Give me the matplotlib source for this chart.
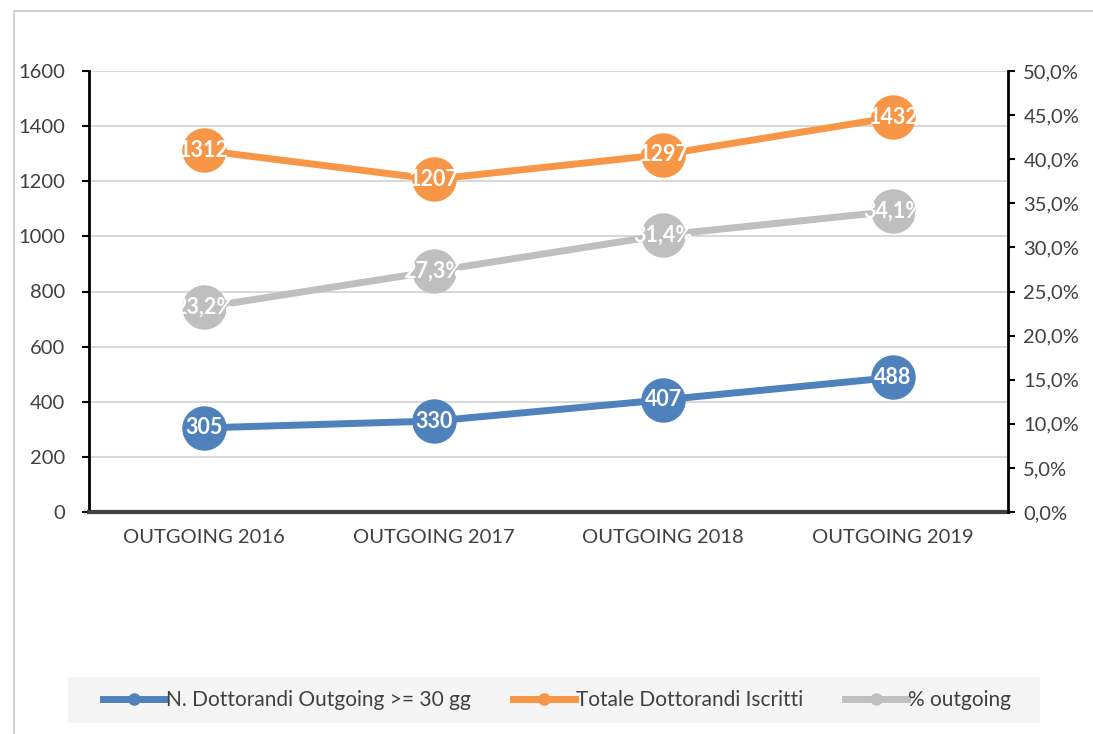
import numpy as np
import matplotlib.pyplot as plt
import matplotlib.patches as mpatches
from matplotlib.lines import Line2D
from matplotlib.ticker import FuncFormatter

plt.rcParams['font.family'] = ['Lato', 'DejaVu Sans']

# dati
categorie = ["OUTGOING 2016", "OUTGOING 2017", "OUTGOING 2018", "OUTGOING 2019"]
outgoing = [305, 330, 407, 488]
iscritti = [1312, 1207, 1297, 1432]
perc = [23.2, 27.3, 31.4, 34.1]

c_blu = "#4f81bd"
c_arancio = "#f79646"
c_grigio = "#bfbfbf"

W, H = 1093, 734
fig = plt.figure(figsize=(W / 100, H / 100), dpi=100)

# cornice esterna (solo lato sinistro e superiore)
fig.add_artist(Line2D([14 / W, 14 / W, 1], [0, 1 - 11 / H, 1 - 11 / H],
                      transform=fig.transFigure, color="#c8c8c8", lw=1.2))

ax = fig.add_axes([89 / W, 1 - 512 / H, (1008 - 89) / W, (512 - 71) / H])
ax2 = ax.twinx()

x = np.arange(len(categorie))
ax.set_xlim(-0.5, 3.5)
ax.set_ylim(0, 1600)
ax2.set_ylim(0, 0.5)

ax.set_yticks(np.arange(0, 1601, 200))
ax2.set_yticks(np.arange(0, 0.501, 0.05))
ax2.yaxis.set_major_formatter(FuncFormatter(lambda v, p: f"{v*100:.1f}%".replace(".", ",")))

ax.grid(axis="y", color="#d9d9d9", lw=1.5)
ax.set_axisbelow(True)
ax.set_xticks(x)
ax.set_xticklabels(categorie)

for a in (ax, ax2):
    a.spines["top"].set_visible(False)
    a.tick_params(axis="y", labelsize=14.5, labelcolor="#404040", width=1.5, length=5, color="black")
    a.patch.set_visible(False)
ax.spines["left"].set_linewidth(2)
ax2.spines["right"].set_linewidth(2)
ax.spines["left"].set_color("black")
ax2.spines["right"].set_color("black")
ax2.spines["left"].set_visible(False)
ax2.spines["bottom"].set_visible(False)
ax.spines["right"].set_visible(False)
ax.spines["bottom"].set_color("#404040")
ax.spines["bottom"].set_linewidth(3)
ax.tick_params(axis="x", length=0, labelsize=14.5, labelcolor="#404040", pad=12)
ax.tick_params(axis="y", pad=12)
ax2.tick_params(axis="y", pad=6)

ms = 31
lw = 5
ax.plot(x, outgoing, color=c_blu, lw=lw, marker="o", ms=ms, zorder=3)
ax.plot(x, iscritti, color=c_arancio, lw=lw, marker="o", ms=ms, zorder=3)
ax2.plot(x, np.array(perc) / 100, color=c_grigio, lw=lw, marker="o", ms=ms, zorder=3)

fs_lab = 15.5
for xi, v in zip(x, outgoing):
    ax.text(xi, v, str(v), ha="center", va="center", color="white", fontsize=fs_lab,
            fontweight="bold", zorder=5)
for xi, v in zip(x, iscritti):
    ax.text(xi, v, str(v), ha="center", va="center", color="white", fontsize=fs_lab,
            fontweight="bold", zorder=5)
for xi, v in zip(x, perc):
    ax2.text(xi, v / 100, f"{v:.1f}%".replace(".", ","), ha="center", va="center",
             color="white", fontsize=fs_lab, fontweight="bold", zorder=5)

# legenda
fig.patches.append(mpatches.Rectangle((68 / W, 1 - 723 / H), (1040 - 68) / W, 46 / H,
                                      transform=fig.transFigure, fc="#f5f5f5", ec="none"))
handles = [
    Line2D([0], [0], color=c_blu, lw=5, marker="o", ms=8, label="N. Dottorandi Outgoing >= 30 gg"),
    Line2D([0], [0], color=c_arancio, lw=5, marker="o", ms=8, label="Totale Dottorandi Iscritti"),
    Line2D([0], [0], color=c_grigio, lw=5, marker="o", ms=8, label="% outgoing"),
]
leg = fig.legend(handles=handles, loc="center", bbox_to_anchor=(557 / W, 1 - 700 / H), ncol=3,
                 frameon=False, fontsize=15, handlelength=3.0, handletextpad=0.05,
                 columnspacing=2.0)
for t in leg.get_texts():
    t.set_color("#404040")

fig.savefig("out.png", dpi=100)
